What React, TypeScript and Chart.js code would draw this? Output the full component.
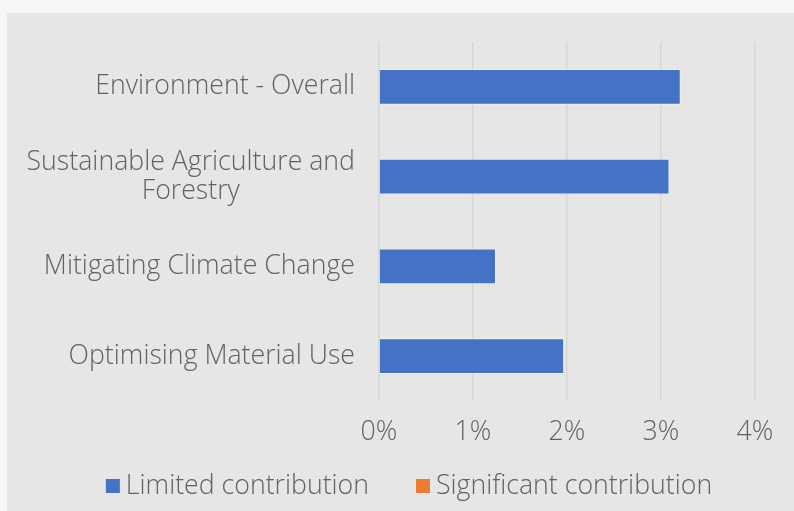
import React, { useEffect, useRef } from "react";
import { Chart, registerables } from "chart.js";

Chart.register(...registerables);

const categories: (string | string[])[] = [
  "Environment - Overall",
  ["Sustainable Agriculture and", "Forestry"],
  "Mitigating Climate Change",
  "Optimising Material Use",
];
const limitedContribution: number[] = [3.21, 3.09, 1.245, 1.97];
const significantContribution: (number | null)[] = [null, null, null, null];
const seriesNames: string[] = ["Limited contribution", "Significant contribution"];
const seriesColors: string[] = ["#4472C4", "#ED7D31"];
const xTickValues: number[] = [0, 1, 2, 3, 4];

const FONT_FAMILY = "'Open Sans', sans-serif";
const FONT_SIZE = 26.7;
const FONT_WEIGHT = "300";
const TEXT_COLOR = "#626262";

const yLabelPlugin = {
  id: "yLabelsCentered",
  afterDraw(chart: any) {
    const ctx = chart.ctx;
    const y = chart.scales.y;
    ctx.save();
    ctx.font = `${FONT_WEIGHT} ${FONT_SIZE}px ${FONT_FAMILY}`;
    ctx.fillStyle = TEXT_COLOR;
    ctx.textAlign = "center";
    ctx.textBaseline = "middle";
    const right = y.right - 24;
    const lh = 29;
    (chart.data.labels as any[]).forEach((lab, i) => {
      const lines: string[] = Array.isArray(lab) ? lab : [lab];
      const w = Math.max(...lines.map((l) => ctx.measureText(l).width));
      const cx = right - w / 2;
      const cy = y.getPixelForValue(i);
      lines.forEach((l, k) => {
        ctx.fillText(l, cx, cy + (k - (lines.length - 1) / 2) * lh);
      });
    });
    ctx.restore();
  },
};

const legendPlugin = {
  id: "customLegend",
  afterDraw(chart: any) {
    const ctx = chart.ctx;
    ctx.save();
    ctx.font = `${FONT_WEIGHT} ${FONT_SIZE}px ${FONT_FAMILY}`;
    ctx.textBaseline = "middle";
    ctx.textAlign = "left";
    const box = 14;
    const gap = 6;
    const spacing = 47;
    const items = chart.data.datasets.map((ds: any) => ({
      label: ds.label as string,
      color: ds.backgroundColor as string,
      w: ctx.measureText(ds.label).width,
    }));
    const total =
      items.reduce((s: number, it: any) => s + box + gap + it.w, 0) + spacing * (items.length - 1);
    let x = 402 - total / 2;
    const cy = 473;
    items.forEach((it: any) => {
      ctx.fillStyle = it.color;
      ctx.fillRect(x, cy - box / 2, box, box);
      ctx.fillStyle = TEXT_COLOR;
      ctx.fillText(it.label, x + box + gap, cy);
      x += box + gap + it.w + spacing;
    });
    ctx.restore();
  },
};

export default function App() {
  const canvasRef = useRef<HTMLCanvasElement | null>(null);

  useEffect(() => {
    if (!canvasRef.current) return;
    const chart = new Chart(canvasRef.current, {
      type: "bar",
      data: {
        labels: categories,
        datasets: [
          {
            label: seriesNames[0],
            data: limitedContribution,
            backgroundColor: seriesColors[0],
            borderColor: "rgba(255,255,255,0.45)",
            borderWidth: 1,
          },
          {
            label: seriesNames[1],
            data: significantContribution,
            backgroundColor: seriesColors[1],
            borderColor: "rgba(255,255,255,0.45)",
            borderWidth: 1,
          },
        ],
      },
      options: {
        indexAxis: "y",
        responsive: false,
        animation: false,
        events: [],
        layout: { padding: { top: 29, right: 39, bottom: 0, left: 0 } },
        datasets: {
          bar: { barPercentage: 0.4, categoryPercentage: 1, grouped: false },
        },
        plugins: {
          legend: { display: false },
          tooltip: { enabled: false },
          title: { display: false },
        },
        scales: {
          x: {
            type: "linear",
            min: xTickValues[0],
            max: xTickValues[xTickValues.length - 1],
            afterBuildTicks: (scale: any) => {
              scale.ticks = xTickValues.map((v) => ({ value: v }));
            },
            afterFit: (scale: any) => {
              scale.height = 110;
            },
            grid: { color: "#d6d6d6", lineWidth: 1.5, drawTicks: false },
            border: { display: false },
            ticks: {
              padding: 15,
              color: TEXT_COLOR,
              font: { family: FONT_FAMILY, size: FONT_SIZE, weight: FONT_WEIGHT as any },
              callback: (v: any) => `${v}%`,
              maxRotation: 0,
            },
          },
          y: {
            type: "category",
            afterFit: (scale: any) => {
              scale.width = 372;
            },
            grid: { display: false, drawTicks: false },
            border: { display: false },
            ticks: { display: false },
          },
        },
      },
      plugins: [yLabelPlugin, legendPlugin],
    });
    return () => chart.destroy();
  }, []);

  return (
    <div
      style={{
        position: "fixed",
        left: 0,
        top: 0,
        width: 794,
        height: 511,
        background: "#f6f6f6",
        overflow: "hidden",
      }}
    >
      <div
        style={{
          position: "absolute",
          left: 7,
          top: 13,
          width: 787,
          height: 498,
          background: "#e6e6e6",
        }}
      >
        <canvas ref={canvasRef} width={787} height={498} style={{ display: "block" }} />
      </div>
    </div>
  );
}
